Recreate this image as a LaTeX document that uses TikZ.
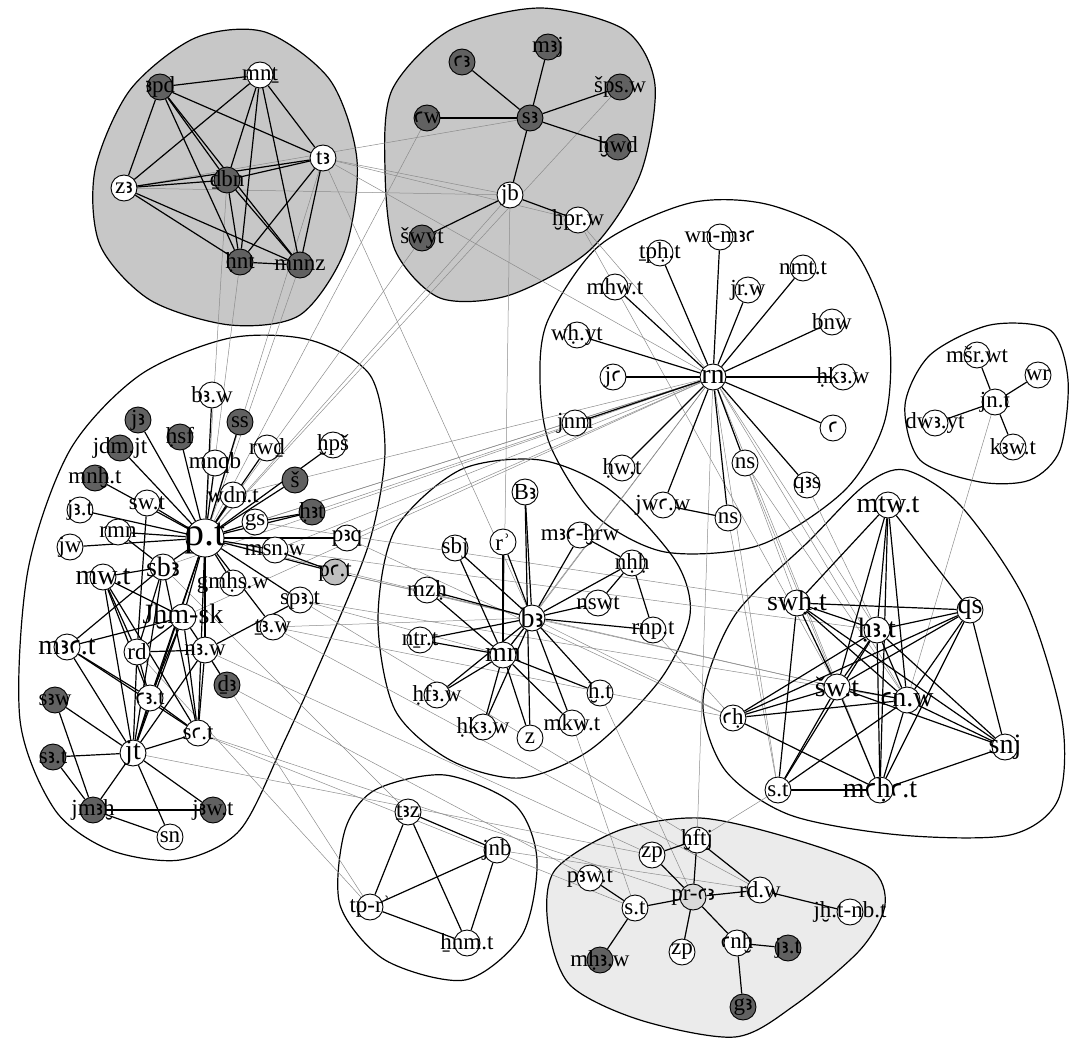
\documentclass[tikz,border=0pt]{standalone}
\usepackage{fontspec}
\setmainfont{Liberation Serif}
\newfontfamily\egyfont[Scale=0.9]{DejaVu Sans}
\newcommand{\eal}{{\egyfont ꜣ}}
\newcommand{\eay}{{\egyfont ꜥ}}
\pgfdeclarelayer{blobs}
\pgfdeclarelayer{edges}
\pgfsetlayers{blobs,edges,main}

\begin{document}
\begin{tikzpicture}[
  x=1pt, y=-1pt,
  vtx/.style={circle, draw, line width=0.9pt, minimum size=26pt, inner sep=0pt},
  wv/.style={vtx, fill=white, label={[lbl]center:#1}},
  dv/.style={vtx, fill=black!62, label={[lbl]center:#1}},
  bv/.style={vtx, fill=white, label={[lblb]center:#1}},
  lbl/.style={inner sep=0pt, font=\fontsize{23}{24}\selectfont},
  lblb/.style={inner sep=0pt, font=\fontsize{28}{30}\selectfont},
  tie/.style={line width=1.2pt},
  far/.style={black!45, line width=0.5pt},
  blob/.style={line width=1.2pt},
]
\useasboundingbox (0,0) rectangle (1071,1038);

% ---------------------------------------------------------------
% cluster A (top left, shaded)
% ---------------------------------------------------------------
\foreach \n/\s/\x/\y/\t in {apd/dv/160/87/\eal pd, mnt/wv/260/75/mnṯ, ta/wv/323/158/t\eal,
    za/wv/124/188/z\eal, dbn/dv/227/180/ḏbn, hnt/dv/240/262/ḥnt, mnnz/dv/300/265/mnnz}
  \node[\s=\t] (\n) at (\x,\y) {};

% cluster B (top middle, shaded)
\foreach \n/\s/\x/\y/\t in {sa/dv/530/118/s\eal, maj/dv/548/47/m\eal j, aa/dv/462/62/\eay\eal,
    aw/dv/427/118/\eay w, sps/dv/620/87/šps.w, hwd/dv/618/147/ḫwd, jb/wv/510/195/jb,
    hpr/wv/578/220/ḫpr.w, swyt/dv/422/238/šwyt}
  \node[\s=\t] (\n) at (\x,\y) {};

% cluster C (rn)
\foreach \n/\s/\x/\y/\t in {rn/bv/713/377/rn, wnma/wv/720/237/wn-m\eal\eay, tph/wv/660/253/ṯpḥ.t,
    mhw/wv/615/287/mhw.t, jrw/wv/748/290/jr.w, nmt/wv/803/268/nmt.t, bnw/wv/832/322/bnw,
    hkaw/wv/843/377/ḥk\eal.w, ay/wv/833/428/\eay, wht/wv/577/335/wḥ.yt, ja/wv/613/377/j\eay,
    jnm/wv/575/423/jnm, hwt/wv/622/468/ḥw.t, nsa/wv/745/463/ns, nsb/wv/728/518/ns,
    jwaw/wv/663/505/jw\eay.w, qas/wv/807/485/q\eal s}
  \node[\s=\t] (\n) at (\x,\y) {};

% cluster D (jn.t)
\foreach \n/\s/\x/\y/\t in {jnt/wv/995/402/jn.t, msr/wv/977/355/mšr.wt, wr/wv/1038/375/wr,
    dway/wv/935/423/dw\eal.yt, kaw/wv/1013/447/k\eal w.t}
  \node[\s=\t] (\n) at (\x,\y) {};

% cluster E (p.t)
\node[vtx, fill=white, minimum size=38pt,
  label={[lbl, font=\fontsize{40}{42}\selectfont]center:p.t}] (pt) at (205,538) {};
\foreach \n/\s/\x/\y/\t in {baw/wv/212/395/b\eal.w, jaa/dv/138/420/j\eal, hsf/dv/180/437/ḥsf,
    ss/dv/240/422/ss, jdm/dv/120/448/jdm.jt, mnqb/wv/215/463/mnqb, rwd/wv/267/448/rwḏ,
    hps/wv/333/445/ḫpš, sh/dv/295/480/š, mnh/dv/95/478/mnḫ.t, wdn/wv/233/495/wdn.t,
    swt/wv/147/503/sw.t, hat/dv/312/512/ḥ\eal t, jat/wv/80/510/j\eal.t, gs/wv/255/522/gs,
    rmn/wv/118/532/rmn, paq/wv/347/538/p\eal q, jw/wv/70/547/jw, msn/wv/275/550/msn.w,
    sba/bv/163/567/sb\eal, mwt/bv/103/577/mw.t, gmhs/wv/233/583/gmḥs.w,
    spat/wv/300/600/sp\eal.t, jhm/bv/183/617/Jḫm-sk, taw/wv/273/627/ṯ\eal.w,
    maat/bv/67/647/m\eal\eay.t, rd/wv/137/652/rd, naw/wv/205/650/n\eal.w, dja/dv/227/685/ḏ\eal,
    aat/wv/150/698/\eay\eal.t, saw/dv/55/700/s\eal w, sat/wv/198/733/s\eay.t, jt/bv/133/753/jt,
    sat2/dv/53/757/s\eal.t, jmah/dv/93/810/jm\eal ḫ, jawt/dv/213/810/j\eal w.t, sn/wv/170/837/sn}
  \node[\s=\t] (\n) at (\x,\y) {};
\node[vtx, fill=black!25, label={[lbl]center:p\eay.t}] (pat) at (335,572) {};

% cluster F (bA)
\foreach \n/\s/\x/\y/\t in {ba/bv/532/618/b\eal, mn/bv/503/655/mn, Ba/wv/525/492/B\eal,
    rr/wv/503/542/rʾ, sbj/wv/455/548/sbj, mhrw/wv/580/535/m\eal\eay-ḫrw, nhh/wv/632/563/nḥḥ,
    mzh/wv/427/590/mzḥ, nswt/wv/598/603/nswt, rnpt/wv/653/630/rnp.t, ntrt/wv/420/640/nṯr.t,
    hfaw/wv/437/695/ḥf\eal.w, ht/wv/600/693/ḫ.t, hkab/wv/483/727/ḥk\eal.w, z/wv/530/738/z,
    mkwt/wv/572/723/mkw.t}
  \node[\s=\t] (\n) at (\x,\y) {};

% cluster G
\foreach \n/\s/\x/\y/\t in {mtwt/bv/888/505/mtw.t, swht/bv/797/603/swḥ.t, qs/bv/970/610/qs,
    hab/bv/877/630/ḥ\eal.t, swtb/bv/837/687/šw.t, anw/bv/907/700/\eay n.w, ah/wv/733/718/\eay ḥ,
    snj/bv/1005/747/snj, stg/wv/778/790/s.t, mahat/bv/880/790/m\eay ḥ\eay.t}
  \node[\s=\t] (\n) at (\x,\y) {};

% cluster H
\foreach \n/\s/\x/\y/\t in {taz/wv/408/812/ṯ\eal z, jnb/wv/497/850/jnb, tpr/wv/370/907/tp-rʾ,
    hnmt/wv/467/943/ẖnm.t}
  \node[\s=\t] (\n) at (\x,\y) {};

% cluster I (shaded)
\node[vtx, fill=black!15, label={[lbl]center:pr-\eay\eal}] (pra) at (693,897) {};
\foreach \n/\s/\x/\y/\t in {hftj/wv/697/840/ḫftj, zp/wv/652/855/zp, paw/wv/590/878/p\eal w.t,
    sti/wv/635/908/s.t, rdw/wv/760/890/rd.w, jhnb/wv/850/912/jḫ.t-nb.t, zpb/wv/682/952/zp,
    anh/wv/737/943/\eay nḫ, jati/dv/788/948/j\eal.t, mhaw/dv/600/960/mḥ\eal.w, ga/dv/743/1007/g\eal}
  \node[\s=\t] (\n) at (\x,\y) {};

% ---------------------------------------------------------------
% cluster outlines
% ---------------------------------------------------------------
\begin{pgfonlayer}{blobs}
  \draw[blob, fill=black!22] plot[smooth cycle] coordinates {(95,170) (130,90) (195,38)
    (265,32) (330,80) (357,160) (345,250) (300,315) (230,325) (150,300) (100,245)};
  \draw[blob, fill=black!22] plot[smooth cycle] coordinates {(392,90) (450,30) (540,8)
    (625,30) (655,85) (640,175) (590,250) (510,295) (440,298) (395,250) (385,170)};
  \draw[blob] plot[smooth cycle] coordinates {(548,320) (600,245) (690,203) (770,205)
    (850,245) (888,330) (885,420) (845,490) (760,545) (665,552) (595,515) (550,445) (540,380)};
  \draw[blob] plot[smooth cycle] coordinates {(905,405) (930,355) (990,325) (1050,330)
    (1068,380) (1060,450) (1030,480) (980,482) (920,460)};
  \draw[blob] plot[smooth cycle] coordinates {(20,720) (28,570) (70,450) (140,375) (230,338)
    (310,340) (370,375) (385,450) (370,540) (330,640) (285,740) (240,830) (180,860)
    (110,850) (55,810)};
  \draw[blob] plot[smooth cycle] coordinates {(395,530) (460,470) (540,460) (610,490)
    (675,560) (690,615) (660,680) (590,750) (520,778) (450,760) (395,710) (378,620)};
  \draw[blob] plot[smooth cycle] coordinates {(905,470) (960,505) (1025,600) (1062,720)
    (1058,800) (1010,835) (900,835) (790,815) (725,770) (703,700) (735,615) (810,540)
    (865,485)};
  \draw[blob] plot[smooth cycle] coordinates {(375,790) (445,775) (515,805) (537,860)
    (522,935) (465,980) (385,960) (340,905) (345,830)};
  \draw[blob, fill=black!8] plot[smooth cycle] coordinates {(555,870) (620,830) (700,818)
    (790,838) (870,868) (885,905) (860,950) (795,1005) (735,1037) (640,1020) (570,985)
    (548,925)};
\end{pgfonlayer}

% ---------------------------------------------------------------
% links between clusters (thin grey) and inside clusters
% ---------------------------------------------------------------
\begin{pgfonlayer}{edges}
  \foreach \a/\b in {ta/jb, ta/hpr, za/jb, za/sa, dbn/pt, hnt/pt, mnnz/pt, ta/pt, ta/rn,
      ta/ba, aw/pt, swyt/pt, sps/pt, jb/mn, jb/pt, hpr/rn, hpr/swtb, pt/rn, gs/rn,
      paq/rn, wdn/rn, hat/rn, msn/rn, jhm/rn, sba/rn, rn/swht, rn/hab, rn/anw, rn/stg,
      rn/hftj, rn/ba, rn/mn, rn/mahat, nsa/swtb, nsa/anw, nsb/stg, qas/hab, pt/ba, pat/ba,
      spat/mn, taw/ba, paq/ah, msn/hab, pat/swtb, spat/anw, taw/ah, gs/swht, sat/sti,
      sat/pra, naw/zp, dja/paw, taw/rdw, spat/hftj, jhm/tpr, rd/tpr, taz/sba, jnb/rdw,
      jnt/anw, stg/hftj, ba/ah, ba/swtb, rnpt/ah, ht/pra, mkwt/sti, jt/zp}
    \draw[far] (\a) -- (\b);

  % A
  \foreach \a/\b in {apd/mnt, apd/ta, apd/za, apd/dbn, apd/hnt, apd/mnnz, mnt/ta, mnt/za,
      mnt/dbn, mnt/hnt, mnt/mnnz, ta/za, ta/dbn, ta/hnt, ta/mnnz, za/dbn, za/hnt,
      za/mnnz, dbn/hnt, dbn/mnnz, hnt/mnnz}
    \draw[tie] (\a) -- (\b);
  % B
  \foreach \a/\b in {sa/maj, sa/aa, sa/aw, sa/sps, sa/hwd, sa/jb, jb/swyt, jb/hpr}
    \draw[tie] (\a) -- (\b);
  % C
  \foreach \b in {wnma, tph, mhw, jrw, nmt, bnw, hkaw, ay, wht, ja, jnm, hwt, nsa, nsb,
      jwaw, qas}
    \draw[tie] (rn) -- (\b);
  \draw[tie] (jwaw) -- (nsb);
  % D
  \foreach \b in {msr, wr, dway, kaw}
    \draw[tie] (jnt) -- (\b);
  % E
  \foreach \b in {baw, jaa, hsf, ss, jdm, mnqb, rwd, hps, sh, mnh, wdn, swt, hat, jat, gs,
      rmn, paq, jw, msn, sba, pat, gmhs, spat, jhm, taw, naw, aat, jt, sat}
    \draw[tie] (pt) -- (\b);
  \foreach \a/\b in {mwt/sba, mwt/jhm, mwt/aat, mwt/jt, mwt/sat, mwt/rd, maat/sba,
      maat/jhm, maat/aat, maat/jt, maat/sat, sba/rd, sba/jt, sba/sat, jhm/rd, jhm/naw,
      jhm/aat, jhm/jt, jhm/sat, rd/naw, rd/aat, rd/jt, naw/sat, naw/jt, naw/dja,
      naw/spat, aat/sat, aat/jt, jt/sat, jt/saw, jt/sat2, jt/jmah, jt/jawt, jt/sn,
      saw/jmah, sat2/jmah, jmah/jawt, jmah/sn, rmn/sba, msn/pat, gs/hat, swt/rd}
    \draw[tie] (\a) -- (\b);
  % F
  \foreach \b in {Ba, rr, sbj, mhrw, nhh, mzh, nswt, rnpt, ntrt, hfaw, ht, hkab, mkwt, mn}
    \draw[tie] (ba) -- (\b);
  \foreach \a/\b in {Ba/z, mn/rr, mn/sbj, mn/mzh, mn/ntrt, mn/hfaw, mn/hkab, mn/z,
      mn/mkwt, mn/ht, mhrw/nhh, nhh/nswt, nhh/rnpt}
    \draw[tie] (\a) -- (\b);
  % G
  \foreach \a/\b in {mtwt/swht, mtwt/qs, mtwt/hab, mtwt/swtb, mtwt/anw, mtwt/mahat,
      swht/qs, swht/hab, swht/swtb, swht/anw, swht/stg, swht/snj, qs/hab, qs/swtb,
      qs/ah, qs/anw, qs/snj, qs/mahat, hab/swtb, hab/anw, hab/ah, hab/stg, hab/mahat,
      hab/snj, swtb/anw, swtb/ah, swtb/stg, swtb/mahat, swtb/snj, anw/ah, anw/stg,
      anw/mahat, anw/snj, ah/mahat, stg/mahat, mahat/snj}
    \draw[tie] (\a) -- (\b);
  % H
  \foreach \a/\b in {taz/jnb, taz/tpr, taz/hnmt, jnb/tpr, jnb/hnmt, tpr/hnmt}
    \draw[tie] (\a) -- (\b);
  % I
  \foreach \a/\b in {pra/hftj, pra/zp, pra/sti, pra/rdw, pra/zpb, pra/anh, hftj/zp,
      hftj/rdw, rdw/jhnb, sti/paw, sti/mhaw, anh/jati, anh/ga}
    \draw[tie] (\a) -- (\b);
\end{pgfonlayer}
\end{tikzpicture}
\end{document}
